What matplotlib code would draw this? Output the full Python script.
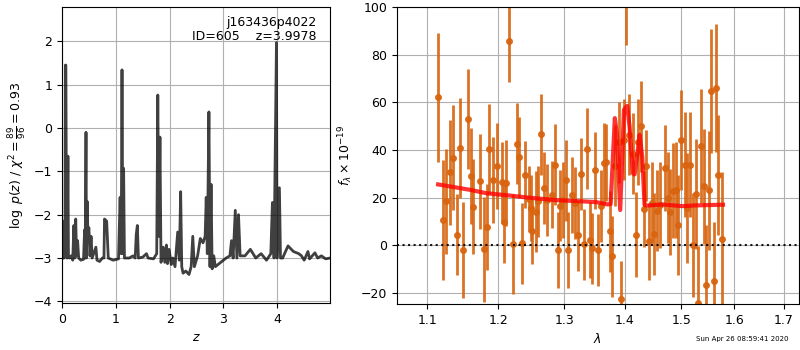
import time
import numpy as np
import matplotlib
matplotlib.use('Agg')
import matplotlib.pyplot as plt
from matplotlib.ticker import FixedLocator, NullLocator, FormatStrFormatter

plt.rcParams['font.size'] = 9

# redshift probability, log p(z)
zgrid = [0.00, 0.02, 0.03, 0.04, 0.055, 0.062, 0.072, 0.085, 0.095, 0.11, 0.12,
         0.14, 0.17, 0.20, 0.22, 0.24, 0.255, 0.27, 0.29, 0.31, 0.35, 0.40, 0.42,
         0.43, 0.446, 0.455, 0.47, 0.48, 0.50, 0.52, 0.54, 0.56, 0.63, 0.65, 0.70,
         0.75, 0.78, 0.79, 0.83, 0.86, 0.95, 1.05, 1.08, 1.10, 1.115, 1.13, 1.145,
         1.16, 1.25, 1.32, 1.36, 1.38, 1.40, 1.42, 1.50, 1.57, 1.60, 1.70, 1.76,
         1.78, 1.80, 1.82, 1.84, 1.88, 1.91, 1.94, 1.96, 1.99, 2.03, 2.06, 2.10,
         2.15, 2.18, 2.205, 2.225, 2.25, 2.30, 2.36, 2.40, 2.43, 2.46, 2.52, 2.57,
         2.62, 2.66, 2.68, 2.70, 2.73, 2.75, 2.77, 2.79, 2.82, 2.85, 2.95, 3.05,
         3.12, 3.15, 3.18, 3.22, 3.25, 3.28, 3.31, 3.40, 3.50, 3.60, 3.70, 3.80,
         3.88, 3.91, 3.94, 3.985, 3.995, 4.04, 4.06, 4.10, 4.20, 4.30, 4.40, 4.45,
         4.50, 4.57, 4.60, 4.70, 4.75, 4.82, 4.90, 4.98]
logpz = [-3.02, -3.00, -2.15, -3.00, -2.90, 1.45, 1.45, -2.90, -3.00, -0.65, -2.95,
         -3.00, -2.95, -3.05, -2.25, -3.00, -2.10, -2.95, -2.60, -3.00, -3.05, -3.03, -2.35,
         -3.00, -0.10, -3.00, -1.70, -2.40, -2.30, -2.95, -2.50, -3.00, -2.75, -3.05, -3.08,
         -3.00, -3.00, -2.10, -2.15, -3.00, -3.05, -3.02, -1.60, -2.90, 1.34, -2.90, -0.93,
         -3.00, -3.00, -2.95, -3.00, -2.45, -2.25, -3.00, -2.98, -2.90, -3.00, -3.02, -2.90,
         0.76, -2.50, -0.21, -3.10, -2.75, -3.10, -2.70, -3.13, -2.80, -3.15, -3.00, -3.20,
         -2.40, -3.05, -1.47, -3.20, -3.35, -3.30, -3.38, -3.20, -2.50, -3.20, -2.95, -2.55,
         -2.65, -2.50, -1.60, -2.90, 0.37, -3.20, -1.30, -3.25, -2.95, -3.20, -3.10, -3.00,
         -2.95, -2.60, -3.00, -1.90, -3.00, -2.00, -2.95, -2.95, -2.80, -3.00, -2.90, -3.05,
         -2.90, -1.72, -3.00, 1.97, -3.00, -1.38, -3.00, -3.00, -2.72, -2.85, -2.90, -2.95,
         -3.05, -2.85, -3.02, -2.88, -3.00, -2.95, -3.02, -3.00]

# grism spectrum, microns and 1e-19 flux units
wave = [1.1148, 1.1216, 1.1253, 1.1308, 1.1346, 1.1410, 1.1447, 1.1493, 1.1559, 1.1598,
        1.1634, 1.1730, 1.1797, 1.1835, 1.1864, 1.1917, 1.1975, 1.2049, 1.2078, 1.2112,
        1.2162, 1.2216, 1.2267, 1.2301, 1.2351, 1.2402, 1.2448, 1.2478, 1.2508, 1.2559,
        1.2589, 1.2640, 1.2682, 1.2728, 1.2806, 1.2853, 1.2900, 1.2943, 1.2987, 1.3038,
        1.3070, 1.3122, 1.3171, 1.3230, 1.3272, 1.3321, 1.3370, 1.3414, 1.3451, 1.3501,
        1.3550, 1.3595, 1.3656, 1.3690, 1.3745, 1.3783, 1.3841, 1.3897, 1.3942, 1.3993,
        1.4028, 1.4072, 1.4141, 1.4188, 1.4234, 1.4280, 1.4327, 1.4374, 1.4427, 1.4467,
        1.4515, 1.4561, 1.4618, 1.4698, 1.4752, 1.4801, 1.4852, 1.4897, 1.4939, 1.5001,
        1.5067, 1.5104, 1.5153, 1.5215, 1.5265, 1.5315, 1.5364, 1.5414, 1.5465, 1.5514,
        1.5546, 1.5609, 1.5655, 1.5693, 1.5756]
flux = [62.2, 10.7, 18.5, 30.7, 36.7, 4.6, 40.9, -1.9, 53.1, 29.2,
        16.3, 26.9, -1.5, 7.6, 40.5, 27.3, 33.5, 26.5, 9.8, 26.2,
        85.7, 0.6, 42.6, 37.0, 1.0, 29.7, 19.5, 15.7, 6.1, 14.2,
        18.5, 46.7, 24.0, 19.0, 21.3, 33.8, -1.9, 16.7, 19.0, 27.3,
        -1.9, 21.2, 17.7, 4.2, 30.0, 0.5, 40.5, 2.3, -1.2, 31.5,
        -1.9, 16.6, 34.5, 34.8, 6.0, -4.5, 33.5, 43.3, -22.5, 44.3,
        102.0, 46.5, 38.4, 4.6, 43.3, 50.0, 15.4, 33.5, 1.7, 18.0,
        4.8, 14.6, 17.0, 32.5, 20.0, 14.0, 23.0, 23.3, 8.6, 44.3,
        33.9, 15.6, 33.9, 0.2, 21.5, -24.2, 41.8, 24.8, -16.4, 23.1,
        64.9, -15.0, 66.0, 29.6, 2.7]
flux_err = [27, 25, 22, 22, 22, 17, 21, 20, 21, 20,
            20, 20, 22, 18, 19, 18, 18, 17, 17, 18,
            17, 21, 17, 17, 17, 14, 14, 14, 14, 17,
            15, 17, 15, 15, 14, 17, 16, 15, 16, 17,
            16, 16, 15, 15, 15, 15, 17, 16, 15, 16,
            15, 15, 17, 16, 17, 17, 17, 17, 16, 17,
            18, 17, 17, 18, 18, 19, 16, 15, 16, 17,
            17, 17, 18, 18, 19, 18, 20, 20, 21, 21,
            22, 23, 22, 22, 23, 24, 24, 24, 25, 25,
            26, 25, 27, 25, 28]

# best-fit model at z=3.9978
model_wave = [1.1148, 1.1597, 1.1826, 1.2178, 1.2474, 1.2877, 1.3296, 1.3517, 1.3711,
              1.3760, 1.3830, 1.3864, 1.3921, 1.3985, 1.4041, 1.4081, 1.4138, 1.4167,
              1.4225, 1.4254, 1.4301, 1.4341, 1.4371, 1.4663, 1.5016, 1.5256, 1.5781]
model_flux = [25.6, 23.3, 21.9, 20.9, 20.0, 19.0, 18.5, 18.2, 17.2,
              17.4, 53.4, 47.0, 14.9, 56.9, 58.5, 49.9, 30.3, 29.8,
              40.0, 46.4, 37.0, 17.1, 16.7, 17.2, 16.5, 16.8, 17.1]

lam_ticks = [1.1, 1.2, 1.3, 1.4, 1.5, 1.6, 1.7]

fig = plt.figure(figsize=(8, 3.5), dpi=100)
ax1 = fig.add_axes([0.0775, 0.134, 0.335, 0.846])
ax2 = fig.add_axes([0.496, 0.131, 0.5025, 0.849])

# p(z)
ax1.plot(zgrid, logpz, color='k', alpha=0.75, lw=2)
ax1.set_xlim(0, 4.98)
ax1.set_ylim(-4.04, 2.79)
ax1.set_xticks([0, 1, 2, 3, 4])
ax1.set_yticks([-4, -3, -2, -1, 0, 1, 2])
ax1.grid()
ax1.set_xlabel(r'$z$')
ax1.set_ylabel(r'$\log\ p(z)$ / $\chi^2=\frac{89}{96}=0.93$')
ax1.text(0.95, 0.97, 'j163436p4022\nID=605    z=3.9978', transform=ax1.transAxes,
         ha='right', va='top', fontsize=9, linespacing=1.1)

# spectrum + model
ax2.errorbar(wave, flux, flux_err, color='#d8640f', marker='o', ms=4,
             linestyle='None', elinewidth=2, alpha=0.9, zorder=2)
ax2.plot(model_wave, model_flux, color='r', alpha=0.8, lw=3, zorder=3)
ax2.axhline(0, color='k', linestyle=':', lw=1.5, alpha=0.9, zorder=4)
ax2.set_xscale('log')
ax2.set_xlim(1.060, 1.731)
ax2.set_ylim(-24.6, 100)
ax2.xaxis.set_major_locator(FixedLocator(lam_ticks))
ax2.xaxis.set_minor_locator(NullLocator())
ax2.xaxis.set_major_formatter(FormatStrFormatter('%.1f'))
ax2.set_yticks([-20, 0, 20, 40, 60, 80, 100])
ax2.grid()
ax2.set_xlabel(r'$\lambda$')
ax2.set_ylabel(r'$f_\lambda\times10^{-19}$')

fig.text(0.985, 0.031, 'Sun Apr 26 08:59:41 2020', ha='right', va='center', fontsize=5)

fig.savefig('out.png', dpi=100)
